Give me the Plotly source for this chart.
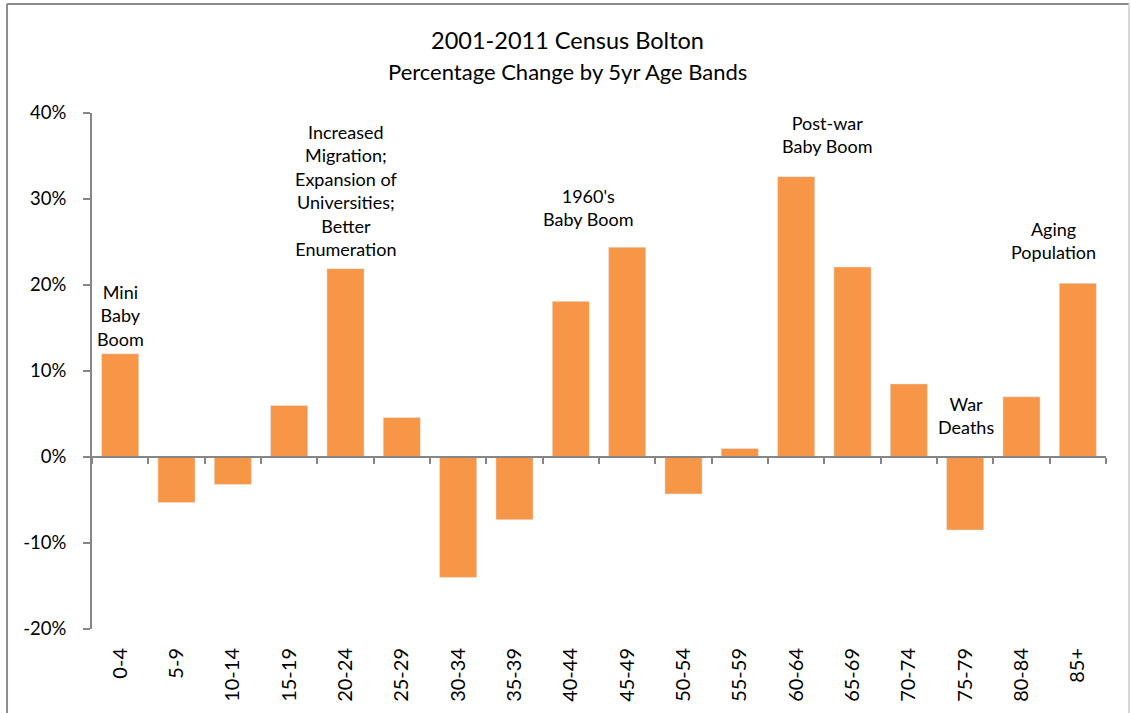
import plotly.graph_objects as go

categories = ["0-4", "5-9", "10-14", "15-19", "20-24", "25-29", "30-34", "35-39", "40-44",
              "45-49", "50-54", "55-59", "60-64", "65-69", "70-74", "75-79", "80-84", "85+"]
pct_change = [0.120, -0.053, -0.032, 0.060, 0.219, 0.046, -0.140, -0.073, 0.181,
              0.244, -0.043, 0.010, 0.326, 0.221, 0.085, -0.085, 0.070, 0.202]

y_tick_vals = [-0.2, -0.1, 0, 0.1, 0.2, 0.3, 0.4]
y_tick_text = ["-20%", "-10%", "0%", "10%", "20%", "30%", "40%"]

notes_text = ["Mini<br>Baby<br>Boom",
              "Increased<br>Migration;<br>Expansion of<br>Universities;<br>Better<br>Enumeration",
              "1960's<br>Baby Boom", "Post-war<br>Baby Boom", "War<br>Deaths", "Aging<br>Population"]
notes_x = [0.0, 4.0, 8.31, 12.55, 15.02, 16.57]
notes_y = [0.165, 0.310, 0.290, 0.375, 0.048, 0.252]

FONT = "Lato, 'Open Sans', sans-serif"
AX = "#868686"
BAR = "#F79646"

fig = go.Figure()
fig.add_trace(go.Bar(x=categories, y=pct_change, marker=dict(color=BAR, line=dict(width=0)),
                     width=0.66, xaxis="x", yaxis="y", hoverinfo="x+y"))
fig.add_trace(go.Bar(x=categories, y=pct_change, marker=dict(color="rgba(0,0,0,0)"),
                     width=0.66, xaxis="x2", yaxis="y", hoverinfo="skip", showlegend=False))

for t, xx, yy in zip(notes_text, notes_x, notes_y):
    fig.add_annotation(x=xx, y=yy, xref="x", yref="y", text=t, showarrow=False,
                       font=dict(family=FONT, size=18, color="black"), align="center",
                       xanchor="center", yanchor="middle")

fig.add_annotation(x=0.469, y=1.1415, xref="paper", yref="paper", text="2001-2011 Census Bolton",
                   showarrow=False, font=dict(family=FONT, size=23.5, color="black"),
                   xanchor="center", yanchor="middle")
fig.add_annotation(x=0.469, y=1.0795, xref="paper", yref="paper",
                   text="Percentage Change by 5yr Age Bands",
                   showarrow=False, font=dict(family=FONT, size=22, color="black"),
                   xanchor="center", yanchor="middle")

# chart-area border (top/left darker, right lighter)
fig.add_shape(type="line", xref="paper", yref="paper", x0=-0.0838, x1=1.0227, y0=1.2112, y1=1.2112,
              line=dict(color="#8c8c8c", width=2))
fig.add_shape(type="line", xref="paper", yref="paper", x0=-0.0838, x1=-0.0838, y0=-0.2, y1=1.2112,
              line=dict(color="#8c8c8c", width=2))
fig.add_shape(type="line", xref="paper", yref="paper", x0=1.0227, x1=1.0227, y0=-0.2, y1=1.2112,
              line=dict(color="#d9d9d9", width=2))

fig.update_layout(
    width=1131, height=713,
    margin=dict(l=92, r=25, t=113, b=84),
    paper_bgcolor="white", plot_bgcolor="white",
    showlegend=False, bargap=0.34,
    font=dict(family=FONT, color="black"),
    xaxis=dict(type="category", categoryorder="array", categoryarray=categories,
               range=[-0.5, 17.5], showline=False, ticks="", showgrid=False,
               tickangle=-90, tickfont=dict(size=20, family=FONT), anchor="y",
               ticklabelstandoff=14),
    xaxis2=dict(type="category", categoryorder="array", categoryarray=categories,
                range=[-0.5, 17.5], overlaying="x", anchor="free", position=1/3,
                showline=True, linecolor=AX, linewidth=2, ticks="outside", tickson="boundaries",
                ticklen=6, tickcolor=AX, tickwidth=2, showticklabels=False, showgrid=False),
    yaxis=dict(range=[-0.2, 0.4], tickvals=y_tick_vals, ticktext=y_tick_text,
               showline=True, linecolor=AX, linewidth=2,
               ticks="outside", ticklen=7, tickcolor=AX, tickwidth=2, showgrid=False,
               zeroline=False, tickfont=dict(size=18.5, family=FONT), ticklabelstandoff=13),
)

fig.write_html("out.html", config={"displayModeBar": False},
               post_script="document.body.style.margin='0px';")
